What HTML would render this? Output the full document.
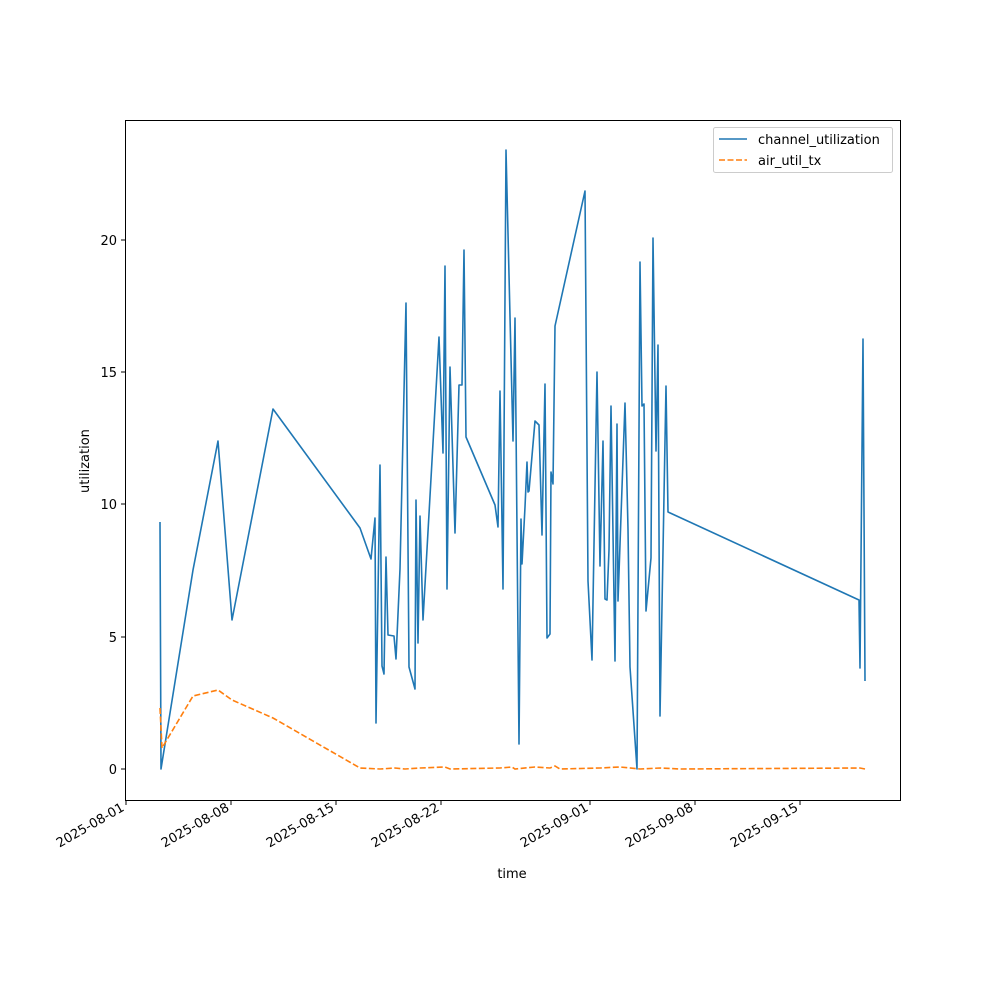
<!DOCTYPE html>
<html><head><style>body{margin:0;background:#fff}svg{display:block}text{font-family:"DejaVu Sans","Liberation Sans",sans-serif;font-size:13px;fill:#000}</style></head><body>
<svg width="1000" height="1000" viewBox="0 0 1000 1000">
<rect width="1000" height="1000" fill="#fff"/>
<polyline fill="none" stroke="#1f77b4" stroke-width="1.6" stroke-linejoin="round" points="160,522 161,769 193,570 218,441 232,620 273,409 360,528 371,559 375,518 376,723 380,465 382,666 384,674 386,557 388,635 394,636 396,659 400,569 406,303 409,667 415,689 416,500 418,643 420,516 423,620 439,337 443,453 445,266 447,589 450,367 455,533 459,385 462,385 464,250 466,437 495,505 498,527 500,391 503,589 506,150 513,441 515,318 519,744 521,519 522,564 525,507 527,462 528,492 529,491 535,421 539,425 542,535 545,384 547,638 550,634 551,472 553,484 555,326 585,191 588,581 592,660 597,372 600,566 603,441 605,599 607,600 609,550 611,406 615,661 617,424 618,601 625,403 628,529 630,667 637,769 640,262 642,406 644,404 646,611 651,558 653,238 656,451 658,345 660,716 666,386 668,512 859,600 860,668 863,339 865,681"/>
<polyline fill="none" stroke="#ff7f0e" stroke-width="1.6" stroke-dasharray="6,2.5" points="160,708 162,748 193,696 218,690 232,700 273,718 360,768 380,769 395,768 405,769 420,768 445,767 450,769 500,768 512,767 515,769 535,767 550,768 555,766 560,769 600,768 620,767 640,769 660,768 680,769 860,768 865,769"/>
<rect x="125.5" y="120.5" width="775" height="680" fill="none" stroke="#000" stroke-width="1"/>
<g stroke="#000" stroke-width="1">
<line x1="125" y1="769" x2="121" y2="769"/><line x1="125" y1="637" x2="121" y2="637"/><line x1="125" y1="504" x2="121" y2="504"/><line x1="125" y1="372" x2="121" y2="372"/><line x1="125" y1="240" x2="121" y2="240"/>
<line x1="126" y1="801" x2="126" y2="805"/><line x1="231" y1="801" x2="231" y2="805"/><line x1="336" y1="801" x2="336" y2="805"/><line x1="441" y1="801" x2="441" y2="805"/><line x1="590" y1="801" x2="590" y2="805"/><line x1="695" y1="801" x2="695" y2="805"/><line x1="800" y1="801" x2="800" y2="805"/>
</g>
<g text-anchor="end">
<text x="117" y="774">0</text><text x="117" y="642">5</text><text x="117" y="509">10</text><text x="117" y="377">15</text><text x="117" y="245">20</text>
</g>
<g text-anchor="end">
<text transform="translate(125,810) rotate(-30)">2025-08-01</text>
<text transform="translate(230,810) rotate(-30)">2025-08-08</text>
<text transform="translate(335,810) rotate(-30)">2025-08-15</text>
<text transform="translate(440,810) rotate(-30)">2025-08-22</text>
<text transform="translate(589,810) rotate(-30)">2025-09-01</text>
<text transform="translate(694,810) rotate(-30)">2025-09-08</text>
<text transform="translate(799,810) rotate(-30)">2025-09-15</text>
</g>
<text x="512" y="878" text-anchor="middle">time</text>
<text transform="translate(89,461) rotate(-90)" text-anchor="middle">utilization</text>
<rect x="713.5" y="127.5" width="179" height="45" rx="2" fill="#fff" stroke="#ccc"/>
<line x1="719" y1="139" x2="747" y2="139" stroke="#1f77b4" stroke-width="1.6"/>
<line x1="719" y1="160" x2="747" y2="160" stroke="#ff7f0e" stroke-width="1.6" stroke-dasharray="6,2.5"/>
<text x="758" y="144">channel_utilization</text>
<text x="758" y="165">air_util_tx</text>
</svg>
</body></html>
